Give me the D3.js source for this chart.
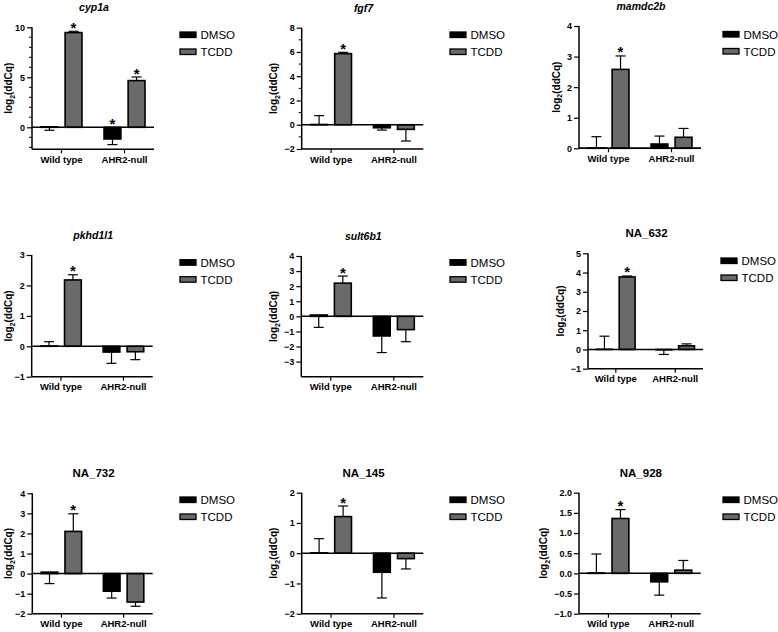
<!DOCTYPE html>
<html><head><meta charset="utf-8">
<script src="https://cdn.jsdelivr.net/npm/d3@7"></script>
<style>body{margin:0;background:#fff}svg{display:block}</style>
</head><body>
<script>
// ---------- DATA ----------
const groups = ["Wild type", "AHR2-null"];
const treatments = ["DMSO", "TCDD"];
const genes = ["cyp1a","fgf7","mamdc2b","pkhd1l1","sult6b1","NA_632","NA_732","NA_145","NA_928"];
// order in each array: [WT DMSO, WT TCDD, AHR2-null DMSO, AHR2-null TCDD]
const cyp1aMean   = [0.05, 9.47, -1.17, 4.67];
const cyp1aErr    = [-0.30, 9.60, -1.73, 5.03];
const fgf7Mean    = [0.02, 5.86, -0.25, -0.38];
const fgf7Err     = [0.75, 5.97, -0.44, -1.34];
const mamdc2bMean = [0.01, 2.58, 0.14, 0.36];
const mamdc2bErr  = [0.38, 3.02, 0.40, 0.65];
const pkhd1l1Mean = [0.01, 2.18, -0.19, -0.18];
const pkhd1l1Err  = [0.15, 2.35, -0.56, -0.44];
const sult6b1Mean = [0.09, 2.20, -1.30, -0.88];
const sult6b1Err  = [-0.73, 2.67, -2.40, -1.68];
const NA632Mean   = [0.01, 3.77, -0.02, 0.19];
const NA632Err    = [0.69, 3.82, -0.26, 0.29];
const NA732Mean   = [0.07, 2.10, -0.88, -1.42];
const NA732Err    = [-0.50, 2.98, -1.22, -1.63];
const NA145Mean   = [0.01, 1.21, -0.63, -0.18];
const NA145Err    = [0.48, 1.56, -1.48, -0.52];
const NA928Mean   = [0.01, 1.36, -0.21, 0.08];
const NA928Err    = [0.48, 1.58, -0.54, 0.32];
// significance stars (1 = star)
const cyp1aStars  = [0, 1, 1, 1];
const otherStars  = [0, 1, 0, 0];
// y-axis domains and tick labels
const cyp1aDomain = [-2.2, 10],  cyp1aTicks = [0, 5, 10],  cyp1aMinor = [-2,-1,1,2,3,4,6,7,8,9];
const fgf7Domain  = [-2, 8],     fgf7Ticks  = [-2, 0, 2, 4, 6, 8], fgf7Minor = [-1,1,3,5,7];
const mamdc2bDomain = [0, 4],    mamdc2bTicks = [0, 1, 2, 3, 4];
const pkhd1l1Domain = [-1, 3],   pkhd1l1Ticks = [-1, 0, 1, 2, 3];
const sult6b1Domain = [-4, 4],   sult6b1Ticks = [-3, -2, -1, 0, 1, 2, 3, 4];
const NA632Domain = [-1, 5],     NA632Ticks = [-1, 0, 1, 2, 3, 4, 5];
const NA732Domain = [-2, 4],     NA732Ticks = [-2, -1, 0, 1, 2, 3, 4];
const NA145Domain = [-2, 2],     NA145Ticks = [-2, -1, 0, 1, 2];
const NA928Domain = [-1, 2],     NA928Ticks = [-1, -0.5, 0, 0.5, 1, 1.5, 2];

const panels = [
  {gene: genes[0], mean: cyp1aMean,   err: cyp1aErr,   stars: cyp1aStars, domain: cyp1aDomain,   ticks: cyp1aTicks, minor: cyp1aMinor},
  {gene: genes[1], mean: fgf7Mean,    err: fgf7Err,    stars: otherStars, domain: fgf7Domain,    ticks: fgf7Ticks, minor: fgf7Minor},
  {gene: genes[2], mean: mamdc2bMean, err: mamdc2bErr, stars: otherStars, domain: mamdc2bDomain, ticks: mamdc2bTicks},
  {gene: genes[3], mean: pkhd1l1Mean, err: pkhd1l1Err, stars: otherStars, domain: pkhd1l1Domain, ticks: pkhd1l1Ticks},
  {gene: genes[4], mean: sult6b1Mean, err: sult6b1Err, stars: otherStars, domain: sult6b1Domain, ticks: sult6b1Ticks},
  {gene: genes[5], mean: NA632Mean,   err: NA632Err,   stars: otherStars, domain: NA632Domain,   ticks: NA632Ticks},
  {gene: genes[6], mean: NA732Mean,   err: NA732Err,   stars: otherStars, domain: NA732Domain,   ticks: NA732Ticks},
  {gene: genes[7], mean: NA145Mean,   err: NA145Err,   stars: otherStars, domain: NA145Domain,   ticks: NA145Ticks},
  {gene: genes[8], mean: NA928Mean,   err: NA928Err,   stars: otherStars, domain: NA928Domain,   ticks: NA928Ticks, fmt: ".1f"}
];

// ---------- LAYOUT (pixels) ----------
const layout = [
  {ax: 32,    x1: 154,   y: [149.3, 27.3], lx: 180,   ly: 35},
  {ax: 301.7, x1: 423.3, y: [149,   27.7], lx: 450,   ly: 35},
  {ax: 579,   x1: 701,   y: [148.3, 26],   lx: 723,   ly: 34.5},
  {ax: 31.7,  x1: 152.7, y: [376.7, 255],  lx: 180,   ly: 262.7},
  {ax: 301.3, x1: 423.3, y: [376.7, 256],  lx: 450,   ly: 262.7},
  {ax: 588,   x1: 703,   y: [368.7, 253.3],lx: 721,   ly: 261},
  {ax: 32.3,  x1: 152.7, y: [613.7, 493.3],lx: 180,   ly: 500},
  {ax: 301.7, x1: 423.3, y: [613.7, 492.7],lx: 450,   ly: 500},
  {ax: 579,   x1: 700.7, y: [613.7, 492.7],lx: 723,   ly: 500}
];
const colors = {DMSO: "#000000", TCDD: "#6a6a6a"};
const FONT = "'Liberation Sans', Arial, Helvetica, sans-serif";

const svg = d3.select("body").append("svg").attr("width", 778).attr("height", 632)
  .style("font-family", FONT);

panels.forEach((p, i) => {
  const L = layout[i];
  const g = svg.append("g");
  const y = d3.scaleLinear().domain(p.domain).range(L.y);
  const x0 = d3.scaleBand().domain(groups).range([L.ax, L.x1]).paddingInner(0.35).paddingOuter(0.143);
  const x1 = d3.scaleBand().domain(treatments).range([0, x0.bandwidth()]).paddingInner(0.3);

  const recs = [];
  groups.forEach((gr, gi) => treatments.forEach((tr, ti) => {
    const k = gi * 2 + ti;
    recs.push({gr, tr, mean: p.mean[k], err: p.err[k], star: p.stars[k]});
  }));

  // bars
  g.selectAll("rect.bar").data(recs).join("rect").attr("class", "bar")
    .attr("x", d => x0(d.gr) + x1(d.tr))
    .attr("width", x1.bandwidth())
    .attr("y", d => y(Math.max(0, d.mean)))
    .attr("height", d => Math.abs(y(d.mean) - y(0)))
    .attr("fill", d => colors[d.tr])
    .attr("stroke", "#000").attr("stroke-width", 1.6);

  // error bars
  const cap = 5;
  recs.forEach(d => {
    const cx = x0(d.gr) + x1(d.tr) + x1.bandwidth() / 2;
    g.append("line").attr("x1", cx).attr("x2", cx).attr("y1", y(d.mean)).attr("y2", y(d.err))
      .attr("stroke", "#000").attr("stroke-width", 1.2);
    g.append("line").attr("x1", cx - cap).attr("x2", cx + cap).attr("y1", y(d.err)).attr("y2", y(d.err))
      .attr("stroke", "#000").attr("stroke-width", 1.2);
    if (d.star) {
      const top = Math.min(y(d.mean), y(d.err), y(0));
      g.append("text").attr("x", cx).attr("y", top + 1.5).attr("text-anchor", "middle")
        .attr("font-size", 15).attr("font-weight", "bold").text("*");
    }
  });

  // zero line
  g.append("line").attr("x1", L.ax).attr("x2", L.x1).attr("y1", y(0)).attr("y2", y(0))
    .attr("stroke", "#000").attr("stroke-width", 1.5);

  // bottom x axis
  const xAxis = d3.axisBottom(x0).tickSize(4).tickPadding(3);
  const gx = g.append("g").attr("transform", `translate(0,${L.y[0]})`).call(xAxis);
  gx.select(".domain").attr("d", `M${L.ax},0H${L.x1}`).attr("stroke-width", 1.5);
  gx.selectAll(".tick line").attr("stroke-width", 1.2);
  gx.selectAll("text").attr("font-size", 9.5).attr("font-weight", "bold")
    .attr("font-family", FONT).attr("fill", "#000");

  // y axis
  const yAxis = d3.axisLeft(y).tickValues(p.ticks).tickSize(5).tickPadding(2)
    .tickFormat(p.fmt ? d3.format(p.fmt) : d3.format("d"));
  const gy = g.append("g").attr("transform", `translate(${L.ax},0)`).call(yAxis);
  gy.select(".domain").attr("d", `M0,${L.y[0]}V${L.y[1]}`).attr("stroke-width", 1.5);
  gy.selectAll(".tick line").attr("stroke-width", 1.2);
  gy.selectAll("text").attr("font-size", 9).attr("font-weight", "bold")
    .attr("font-family", FONT).attr("fill", "#000");
  if (p.minor) {
    g.selectAll("line.minor").data(p.minor).join("line").attr("class", "minor")
      .attr("x1", L.ax - 3).attr("x2", L.ax).attr("y1", d => y(d)).attr("y2", d => y(d))
      .attr("stroke", "#000").attr("stroke-width", 1);
  }
  let maxW = 0;
  gy.selectAll("text").each(function(){ maxW = Math.max(maxW, this.getComputedTextLength()); });

  // y label
  const ylx = Math.max(L.ax - maxW - 14, 12);
  const yl = g.append("text")
    .attr("transform", `translate(${ylx},${(L.y[0] + L.y[1]) / 2}) rotate(-90)`)
    .attr("text-anchor", "middle").attr("font-size", 10).attr("font-weight", "bold");
  yl.append("tspan").text("log");
  yl.append("tspan").attr("font-size", 7).attr("dy", 2.5).text("2");
  yl.append("tspan").attr("dy", -2.5).text("(ddCq)");

  // title
  const isNA = p.gene.startsWith("NA_");
  g.append("text").attr("x", (L.ax + L.x1) / 2 + 1).attr("y", L.y[1] - 16)
    .attr("text-anchor", "middle").attr("font-weight", "bold")
    .attr("font-size", isNA ? 11.5 : 10.5)
    .attr("font-style", isNA ? "normal" : "italic").text(p.gene);

  // legend
  treatments.forEach((tr, ti) => {
    const ly = L.ly + ti * 17;
    g.append("rect").attr("x", L.lx).attr("y", ly - 3).attr("width", 16).attr("height", 5.5)
      .attr("fill", colors[tr]).attr("stroke", "#000").attr("stroke-width", 1.3);
    g.append("text").attr("x", L.lx + 20.5).attr("y", ly + 4.2).attr("font-size", 11.5).text(tr);
  });
});
</script>
</body></html>
